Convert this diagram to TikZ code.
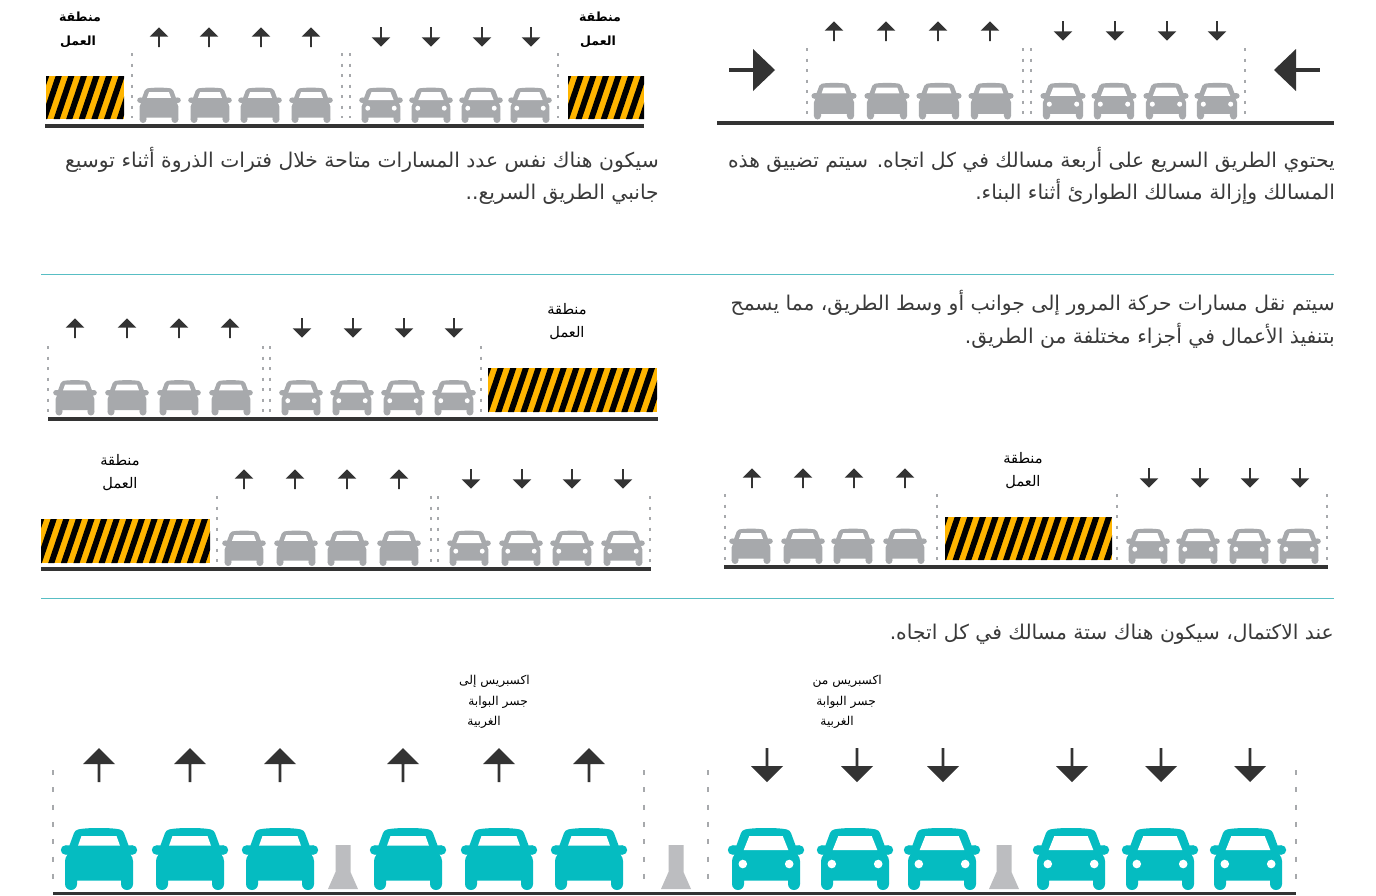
\documentclass[tikz,border=0pt]{standalone}
\usepackage{fontspec}
\TeXXeTstate=1
\newfontfamily\arabicfont[Script=Arabic]{DejaVu Sans}
\newfontfamily\arabicbold[Script=Arabic]{DejaVu Sans Bold}
\definecolor{cargray}{HTML}{A7A9AC}
\definecolor{carteal}{HTML}{05BCC1}
\definecolor{barriergray}{HTML}{BCBDC0}
\definecolor{roaddark}{HTML}{333333}
\definecolor{hazardyellow}{HTML}{FFB500}
\definecolor{rulecolor}{HTML}{58BEC4}
\definecolor{bodytext}{HTML}{3A3A3A}
\newcommand{\carbase}{%
  \fill (0,-62) .. controls (10,-62) and (17,-61.5) .. (21,-60.5) .. controls (23,-60) and (24,-59) .. (25,-57)
    -- (29.5,-44.7) -- (33.5,-44.7) -- (33.5,-35.3) -- (31.5,-35.3) .. controls (33,-33) and (34,-32) .. (34,-29)
    -- (34,-6) -- (22,-6) -- (22,-9.5) -- (-22,-9.5) -- (-22,-6) -- (-34,-6) -- (-34,-29)
    .. controls (-34,-32) and (-33,-33) .. (-31.5,-35.3) -- (-33.5,-35.3) -- (-33.5,-44.7) -- (-29.5,-44.7)
    -- (-25,-57) .. controls (-24,-59) and (-23,-60) .. (-21,-60.5) .. controls (-17,-61.5) and (-10,-62) .. (0,-62) -- cycle;
  \fill (33.5,-40) circle[radius=4.7] (-33.5,-40) circle[radius=4.7] (28,-6) circle[radius=6] (-28,-6) circle[radius=6];
}
\tikzset{
  carback/.pic={\carbase \fill[white] (-17.5,-54) -- (17.5,-54) -- (21,-44.3) -- (-21,-44.3) -- cycle;},
  carfront/.pic={\carbase \fill[white] (-16.7,-54) -- (16.7,-54) -- (22.3,-40) -- (-22.3,-40) -- cycle;
    \fill[white] (23.2,-26) circle[radius=4.3] (-23.2,-26) circle[radius=4.3];},
  lanearrow/.pic={\fill[roaddark] (-1.4,0) -- (1.4,0) -- (1.4,-18) -- (16,-18) -- (0,-34) -- (-16,-18) -- (-1.4,-18) -- cycle;},
  lanedash/.style={draw=cargray,line width=1.2pt,dash pattern=on 3pt off 7.5pt},
  bigdash/.style={draw=cargray,line width=2pt,dash pattern=on 5pt off 12.3pt},
  bodyline/.style={font=\arabicfont\fontsize{20.3}{24}\selectfont,text=bodytext,inner sep=0pt,anchor=base east},
  worklabel/.style={font=\arabicfont\fontsize{14.6}{17}\selectfont,text=black,inner sep=0pt},
  boldlabel/.style={font=\arabicbold\fontsize{12.6}{16}\selectfont,text=black,inner sep=0pt},
  smalllabel/.style={font=\arabicfont\fontsize{12.2}{14}\selectfont,text=black,inner sep=0pt},
}
% #1 colour, #2 scale, #3 kind, #4 baseline y, #5 x list
\newcommand{\carrow}[5]{\foreach \cx in {#5}{\pic[#1,scale=#2] at (\cx,#4) {#3};}}
% #1 y of tail, #2 x list
\newcommand{\upmarks}[2]{\foreach \ax in {#2}{\pic[scale=0.58] at (\ax,#1) {lanearrow};}}
\newcommand{\downmarks}[2]{\foreach \ax in {#2}{\pic[scale=0.58,rotate=180] at (\ax,#1) {lanearrow};}}
\newcommand{\laneguides}[3]{\foreach \dx in {#3}{\draw[lanedash] (\dx,#1) -- (\dx,#2);}}
\newcommand{\hazardzone}[4]{%
  \begin{scope}
    \clip (#1,#2) rectangle (#3,#4);
    \fill[hazardyellow] (#1,#2) rectangle (#3,#4);
    \pgfmathsetmacro{\hh}{(#4-#2)*0.34}
    \foreach \hs in {0,1,...,18}{
      \pgfmathsetmacro{\hx}{#1-3+\hs*12.6}
      \fill[black] (\hx,#2) -- (\hx+6.2,#2) -- (\hx+6.2-\hh,#4) -- (\hx-\hh,#4) -- cycle;
    }
  \end{scope}}
\begin{document}
\begin{tikzpicture}[x=1pt,y=-1pt]
\useasboundingbox (0,0) rectangle (1376,895);
\fill[white] (0,0) rectangle (1376,895);

% rules
\draw[rulecolor,line width=1pt] (41,274) -- (1334,274);
\draw[rulecolor,line width=1pt] (41,598) -- (1334,598);

% panel A (top right)
\fill[roaddark] (717,121) rectangle (1334,125);
\laneguides{48}{114}{807,1023,1031,1245}
\upmarks{41}{834,886,938,990}
\downmarks{21}{1063,1115,1167,1217}
\carrow{cargray}{0.59}{carback}{119.5}{834,887,939,991}
\carrow{cargray}{0.59}{carfront}{119.5}{1063,1114,1166,1217}
\fill[roaddark] (729,68) rectangle (754,72);
\fill[roaddark] (753,49) -- (775,70) -- (753,91) -- cycle;
\fill[roaddark] (1296,68) rectangle (1320,72);
\fill[roaddark] (1296,49) -- (1274,70) -- (1296,91) -- cycle;
\node[bodyline] (a1) at (1335,167) {\beginR يحتوي الطريق السريع على أربعة مسالك في كل اتجاه. سيتم تضييق هذه\endR};
\node[bodyline] (a2) at (1335,199) {\beginR المسالك وإزالة مسالك الطوارئ أثناء البناء.\endR};

% panel B (top left)
\fill[roaddark] (45,124) rectangle (644,128);
\laneguides{53}{118}{132,342,350,558}
\upmarks{47}{159,209,261,311}
\downmarks{27}{381,431,482,531}
\carrow{cargray}{0.57}{carback}{123}{159,210,260,311}
\carrow{cargray}{0.57}{carfront}{123}{381,431,481,530}
\hazardzone{46}{76}{124}{119}
\hazardzone{568}{76}{644}{119}
\node[boldlabel] (b1) at (80,17) {\beginR منطقة\endR};
\node[boldlabel] (b2) at (78,42) {\beginR العمل\endR};
\node[boldlabel] (b3) at (600,17) {\beginR منطقة\endR};
\node[boldlabel] (b4) at (598,42) {\beginR العمل\endR};
\node[bodyline] (b5) at (659,167) {\beginR سيكون هناك نفس عدد المسارات متاحة خلال فترات الذروة أثناء توسيع\endR};
\node[bodyline] (b6) at (659,199) {\beginR جانبي الطريق السريع..\endR};

% panel C
\fill[roaddark] (48,417) rectangle (658,421);
\laneguides{346}{414}{48,263,270,481}
\upmarks{338}{75,127,179,230}
\downmarks{318}{302,353,404,454}
\carrow{cargray}{0.57}{carback}{415.5}{75,127,179,231}
\carrow{cargray}{0.57}{carfront}{415.5}{301,352,403,454}
\hazardzone{488}{368}{657}{412}
\node[worklabel] (c1) at (567,309) {\beginR منطقة\endR};
\node[worklabel] (c2) at (567,333) {\beginR العمل\endR};
\node[bodyline] (c3) at (1335,310) {\beginR سيتم نقل مسارات حركة المرور إلى جوانب أو وسط الطريق، مما يسمح\endR};
\node[bodyline] (c4) at (1335,343) {\beginR بتنفيذ الأعمال في أجزاء مختلفة من الطريق.\endR};

% panel D
\fill[roaddark] (41,567) rectangle (651,571);
\laneguides{496}{564}{217,431,438,650}
\upmarks{489}{244,295,347,399}
\downmarks{469}{471,522,572,623}
\carrow{cargray}{0.57}{carback}{566}{244,296,347,399}
\carrow{cargray}{0.57}{carfront}{566}{469,521,572,623}
\hazardzone{41}{519}{210}{563}
\node[worklabel] (d1) at (120,460) {\beginR منطقة\endR};
\node[worklabel] (d2) at (120,484) {\beginR العمل\endR};

% panel E
\fill[roaddark] (724,565) rectangle (1328,569);
\laneguides{494}{562}{725,937,1117,1327}
\upmarks{488}{752,803,854,905}
\downmarks{468}{1149,1200,1250,1300}
\carrow{cargray}{0.57}{carback}{564}{751,803,853,905}
\carrow{cargray}{0.57}{carfront}{564}{1148,1198,1249,1299}
\hazardzone{945}{517}{1112}{560}
\node[worklabel] (e1) at (1023,458) {\beginR منطقة\endR};
\node[worklabel] (e2) at (1023,482) {\beginR العمل\endR};

% panel F
\fill[roaddark] (53,892) rectangle (1296,895);
\foreach \dx in {53,644,708,1296}{\draw[bigdash] (\dx,770) -- (\dx,880);}
\foreach \ax in {99,190,280,403,499,589}{\pic at (\ax,782) {lanearrow};}
\foreach \ax in {767,857,943,1072,1161,1250}{\pic[rotate=180] at (\ax,748) {lanearrow};}
\carrow{carteal}{1}{carback}{890}{99,190,280,408,499,589}
\carrow{carteal}{1}{carfront}{890}{766,855,942,1071,1160,1248}
\foreach \bx in {343,676,1004}{
  \fill[barriergray] (\bx-7.5,845) -- (\bx+7.5,845) -- (\bx+7.5,872) -- (\bx+15,889) -- (\bx-15,889) -- (\bx-7.5,872) -- cycle;
}
\node[bodyline] (f1) at (1334,639) {\beginR عند الاكتمال، سيكون هناك ستة مسالك في كل اتجاه.\endR};
\node[smalllabel,anchor=east] (f2) at (530,681) {\beginR اكسبريس إلى\endR};
\node[smalllabel,anchor=east] (f3) at (528,702) {\beginR جسر البوابة\endR};
\node[smalllabel,anchor=east] (f4) at (501,722) {\beginR الغربية\endR};
\node[smalllabel,anchor=east] (f5) at (882,681) {\beginR اكسبريس من\endR};
\node[smalllabel,anchor=east] (f6) at (876,702) {\beginR جسر البوابة\endR};
\node[smalllabel,anchor=east] (f7) at (854,722) {\beginR الغربية\endR};
\end{tikzpicture}
\end{document}
